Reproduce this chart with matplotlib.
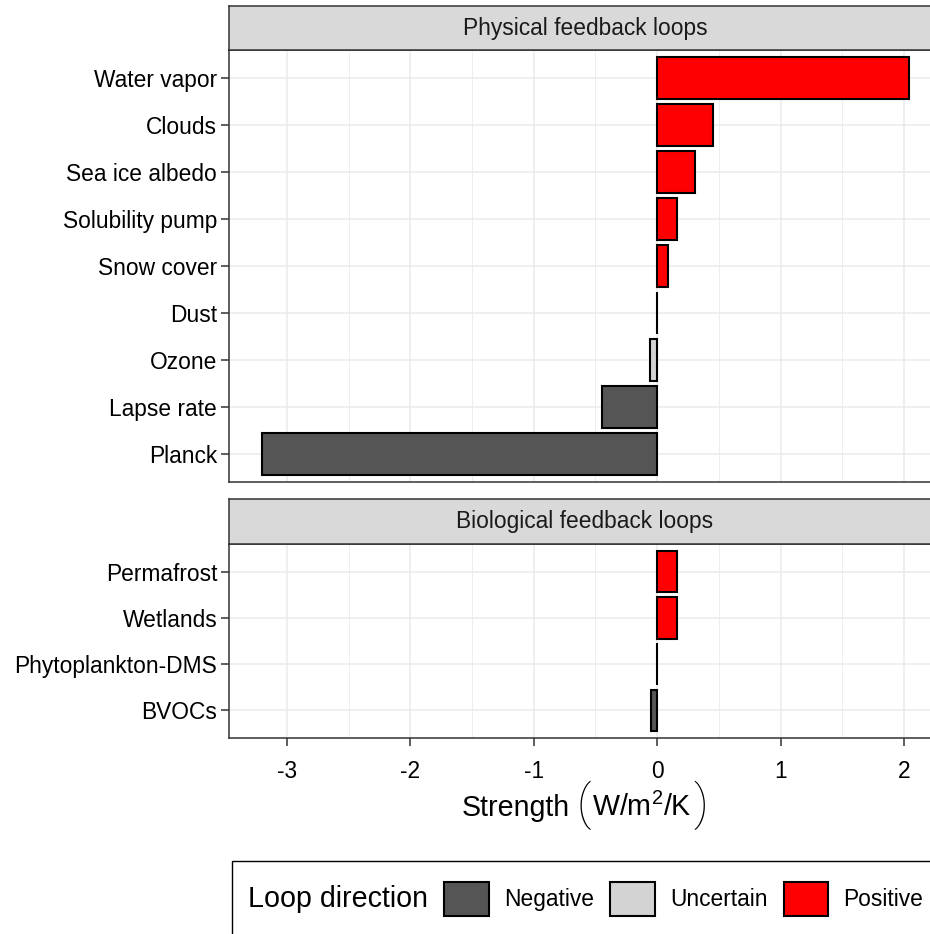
import matplotlib
matplotlib.use('Agg')
import matplotlib.pyplot as plt
import matplotlib.patches as patches

plt.rcParams['font.family'] = ['Liberation Sans', 'DejaVu Sans']
plt.rcParams['mathtext.fontset'] = 'custom'
plt.rcParams['mathtext.rm'] = 'Liberation Sans'
plt.rcParams['mathtext.it'] = 'Liberation Sans:italic'

# данные
phys_names = ['Water vapor', 'Clouds', 'Sea ice albedo', 'Solubility pump', 'Snow cover',
              'Dust', 'Ozone', 'Lapse rate', 'Planck']
phys_values = [2.04, 0.45, 0.31, 0.16, 0.09, 0.0, -0.06, -0.45, -3.20]
phys_dirs = ['Positive', 'Positive', 'Positive', 'Positive', 'Positive',
             'Uncertain', 'Uncertain', 'Negative', 'Negative']

bio_names = ['Permafrost', 'Wetlands', 'Phytoplankton-DMS', 'BVOCs']
bio_values = [0.16, 0.16, 0.0, -0.05]
bio_dirs = ['Positive', 'Positive', 'Uncertain', 'Negative']

directions = ['Negative', 'Uncertain', 'Positive']
dir_colors = {'Negative': '#555555', 'Uncertain': '#D3D3D3', 'Positive': '#FF0000'}

W, H = 930, 934
fig = plt.figure(figsize=(W / 100, H / 100), dpi=100)


def px_axes(x0, y0, x1, y1):
    # координаты в пикселях от верхнего левого угла
    return fig.add_axes([x0 / W, 1 - y1 / H, (x1 - x0) / W, (y1 - y0) / H])


x_left, x_right = 229, 941
xlim = (-3.47, 2.30)
grid_col = '#EBEBEB'
border_col = '#333333'
small = 16.4
big = 20.6


def draw_panel(top, bottom, strip_top, title, names, values, dirs, show_x):
    ax = px_axes(x_left, top, x_right, bottom)
    n = len(names)
    pos = list(range(n))
    ax.barh(pos, values, height=0.9, color=[dir_colors[d] for d in dirs],
            edgecolor='black', linewidth=1.5, zorder=3)
    ax.set_xlim(*xlim)
    ax.set_ylim(n - 0.4, -0.6)
    ax.set_yticks(pos)
    ax.set_yticklabels(names, fontsize=small, color='black')
    ax.set_xticks(range(-3, 3))
    ax.set_xticks([-2.5, -1.5, -0.5, 0.5, 1.5], minor=True)
    ax.grid(which='major', color=grid_col, linewidth=1.1, zorder=0)
    ax.grid(which='minor', axis='x', color=grid_col, linewidth=0.6, zorder=0)
    ax.set_axisbelow(True)
    ax.tick_params(axis='both', which='major', length=5.5, width=1.1, color=border_col,
                   labelsize=small, labelcolor='black', pad=3)
    ax.tick_params(axis='x', which='major', pad=10)
    ax.tick_params(axis='x', which='minor', length=0)
    if show_x:
        ax.set_xticklabels(['-3', '-2', '-1', '0', '1', '2'])
    else:
        ax.tick_params(axis='x', which='major', length=0, labelbottom=False)
    for sp in ax.spines.values():
        sp.set_color(border_col)
        sp.set_linewidth(1.1)

    st = px_axes(x_left, strip_top, x_right, top)
    st.set_facecolor('#D9D9D9')
    st.set_xticks([])
    st.set_yticks([])
    for sp in st.spines.values():
        sp.set_color(border_col)
        sp.set_linewidth(1.1)
    st.text((585 - x_left) / (x_right - x_left), 0.5, title, transform=st.transAxes,
            ha='center', va='center', fontsize=small, color='#1A1A1A')
    return ax


ax1 = draw_panel(50, 482, 6, 'Physical feedback loops', phys_names, phys_values, phys_dirs, False)
ax2 = draw_panel(544, 738, 499, 'Biological feedback loops', bio_names, bio_values, bio_dirs, True)

# подпись оси X: слова + высокие скобки
renderer = fig.canvas.get_renderer()
y_base = 1 - 816 / H
y_par = 1 - 805 / H
paren_kw = dict(fontsize=35, family=['Roboto', 'DejaVu Sans'], fontweight='light', color='black')
pieces = [
    ('Strength', dict(fontsize=big), y_base, 'baseline', 0),
    ('(', paren_kw, y_par, 'center', 6),
    (r'W/m$^{2}$/K', dict(fontsize=big), y_base, 'baseline', 2),
    (')', paren_kw, y_par, 'center', 1),
]
texts = []
total = 0
for s, kw, yy, va, gap in pieces:
    t = fig.text(0, yy, s, ha='left', va=va, **kw)
    w = t.get_window_extent(renderer).width
    texts.append((t, w, gap))
    total += w + gap
x_cur = 585 - total / 2
for t, w, gap in texts:
    x_cur += gap
    t.set_x(x_cur / W)
    x_cur += w

# легенда
fig.patches.append(patches.Rectangle((232 / W, -0.05), 0.8, 1 - 861 / H + 0.05,
                                     transform=fig.transFigure, facecolor='white',
                                     edgecolor='black', linewidth=1.0))
fig.text(248 / W, 1 - 899 / H, 'Loop direction', fontsize=big, ha='left', va='center')
handles = [patches.Patch(facecolor=dir_colors[d], edgecolor='black', linewidth=1.5)
           for d in directions]
fig.legend(handles, directions, ncol=3, frameon=False, fontsize=small,
           loc='center left', bbox_to_anchor=(433 / W, 1 - 899 / H),
           borderpad=0, handlelength=1.97, handleheight=1.97,
           handletextpad=0.66, columnspacing=0.7)

fig.savefig('out.png', dpi=100)
